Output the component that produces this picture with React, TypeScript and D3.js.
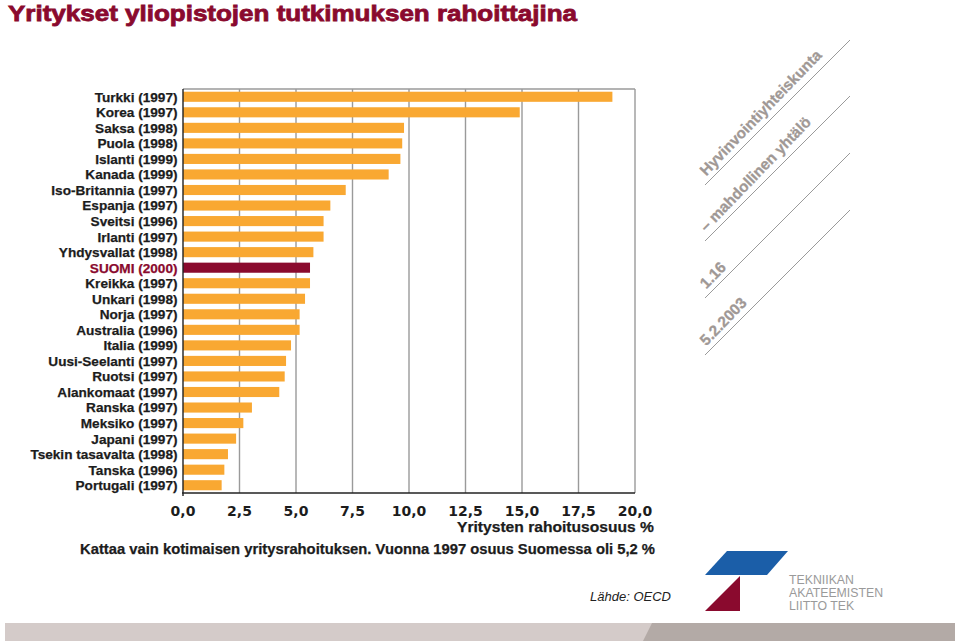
import React from "react";
import * as d3 from "d3";

const countries = [
  "Turkki (1997)", "Korea (1997)", "Saksa (1998)", "Puola (1998)", "Islanti (1999)",
  "Kanada (1999)", "Iso-Britannia (1997)", "Espanja (1997)", "Sveitsi (1996)", "Irlanti (1997)",
  "Yhdysvallat (1998)", "SUOMI (2000)", "Kreikka (1997)", "Unkari (1998)", "Norja (1997)",
  "Australia (1996)", "Italia (1999)", "Uusi-Seelanti (1997)", "Ruotsi (1997)", "Alankomaat (1997)",
  "Ranska (1997)", "Meksiko (1997)", "Japani (1997)", "Tsekin tasavalta (1998)", "Tanska (1996)",
  "Portugali (1997)",
];
const shares = [
  19.0, 14.9, 9.78, 9.7, 9.62,
  9.1, 7.2, 6.52, 6.22, 6.22,
  5.77, 5.62, 5.62, 5.4, 5.16,
  5.16, 4.78, 4.56, 4.5, 4.26,
  3.05, 2.67, 2.35, 1.99, 1.83,
  1.71,
];
const highlight = "SUOMI (2000)";
const xTicks = [0, 2.5, 5, 7.5, 10, 12.5, 15, 17.5, 20];
const title = "Yritykset yliopistojen tutkimuksen rahoittajina";
const xAxisTitle = "Yritysten rahoitusosuus %";
const footnote = "Kattaa vain kotimaisen yritysrahoituksen. Vuonna 1997 osuus Suomessa oli 5,2 %";
const source = "Lähde: OECD";
const sideTexts = ["Hyvinvointiyhteiskunta", "– mahdollinen yhtälö", "1.16", "5.2.2003"];
const logoLines = ["TEKNIIKAN", "AKATEEMISTEN", "LIITTO TEK"];

const ORANGE = "#F9A832";
const MAROON = "#8A0A2E";
const GRID = "#9a9a9a";
const SIDE = "#a09895";
const FONT = "'Liberation Sans', Arial, sans-serif";
const WIDE = "'DejaVu Sans', sans-serif";

export default function App() {
  const W = 960, H = 642;
  const x0 = 183, x1 = 635, yTop = 89, yBot = 493;
  const x = d3.scaleLinear().domain([0, 20]).range([x0, x1]);
  const y = d3.scaleBand<string>().domain(countries).range([yTop, yBot]).paddingInner(0.35).paddingOuter(0.175);
  const fmt = (v: number) => d3.format(".1f")(v).replace(".", ",");

  const lineY = [185, 241, 298, 355];

  return (
    <svg width={W} height={H} style={{ position: "absolute", left: 0, top: 0, background: "#fff" }}>
      <rect width={W} height={H} fill="#fff" />
      <text x={8} y={21} fill={MAROON} stroke={MAROON} strokeWidth={0.8} fontFamily={FONT} fontWeight="bold" fontSize={22}
        textLength={569} lengthAdjust="spacingAndGlyphs">{title}</text>

      {/* grid */}
      {xTicks.slice(1).map((t) => (
        <line key={t} x1={x(t)} x2={x(t)} y1={yTop} y2={yBot} stroke={GRID} strokeWidth={1.4} />
      ))}
      <line x1={x0} x2={x1} y1={yTop} y2={yTop} stroke={GRID} strokeWidth={1.4} />

      {/* bars */}
      {countries.map((c, i) => (
        <rect key={c} x={x(0)} y={y(c)} width={x(shares[i]) - x(0)} height={y.bandwidth()}
          fill={c === highlight ? MAROON : ORANGE} />
      ))}

      {/* axes */}
      <line x1={x0} x2={x0} y1={yTop} y2={yBot + 3} stroke="#222" strokeWidth={1.4} />
      <line x1={x0 - 1} x2={x1} y1={yBot} y2={yBot} stroke="#222" strokeWidth={1.4} />

      {/* labels */}
      {countries.map((c) => {
        const col = c === highlight ? MAROON : "#1c1c1c";
        return (
          <text key={c} x={177.5} y={(y(c) as number) + y.bandwidth() / 2} dy="0.36em" textAnchor="end"
            fontFamily={FONT} fontWeight="bold" fontSize={13.6} fill={col} stroke={col} strokeWidth={0.25}>
            {c}
          </text>
        );
      })}

      {xTicks.map((t) => (
        <text key={t} x={x(t)} y={516} textAnchor="middle" fontFamily={WIDE} fontWeight="bold"
          fontSize={14} fill="#1c1c1c">{fmt(t)}</text>
      ))}
      <text x={654} y={532} textAnchor="end" fontFamily={FONT} fontWeight="bold" fontSize={15} fill="#1c1c1c"
        stroke="#1c1c1c" strokeWidth={0.25} textLength={197} lengthAdjust="spacingAndGlyphs">
        {xAxisTitle}
      </text>
      <text x={80} y={554} fontFamily={FONT} fontWeight="bold" fontSize={14} fill="#1c1c1c"
        stroke="#1c1c1c" strokeWidth={0.25} textLength={575} lengthAdjust="spacingAndGlyphs">{footnote}</text>

      <text x={671} y={601} textAnchor="end" fontFamily={FONT} fontStyle="italic" fontSize={13} fill="#222">
        {source}
      </text>

      {/* side block */}
      {lineY.map((ly, i) => (
        <g key={i}>
          <line x1={705} y1={ly} x2={850} y2={ly - 145} stroke={GRID} strokeWidth={1} />
          <g transform={`translate(705,${ly}) rotate(-46)`}>
            <text x={7} y={-5} fontFamily={FONT} fontWeight="bold" fontSize={15.3} fill={SIDE}
              stroke={SIDE} strokeWidth={0.3}>{sideTexts[i]}</text>
          </g>
        </g>
      ))}

      {/* logo */}
      <polygon points="727,551 788,551 767,575 705,575" fill="#1B5EA8" />
      <polygon points="740,576 740,611 705,611" fill={MAROON} />
      {logoLines.map((l, i) => (
        <text key={l} x={789} y={584 + i * 13} fontFamily={FONT} fontSize={12.3} fill="#9a9a9a">{l}</text>
      ))}

      {/* bottom band */}
      <rect x={5} y={623} width={950} height={18} fill="#d4cbc9" />
      <polygon points="652,623 955,623 955,641 643,641" fill="#b3aaa6" />
    </svg>
  );
}
